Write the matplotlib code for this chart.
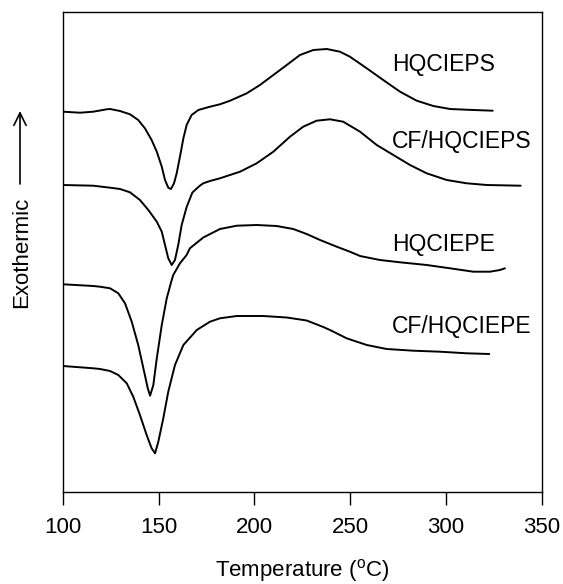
import matplotlib
matplotlib.use("Agg")
import matplotlib.pyplot as plt

plt.rcParams['font.family'] = ['Liberation Sans', 'DejaVu Sans']

# ---- data (temperature in degC, heat flow in arbitrary units incl. vertical offset) ----
t_hqcieps = [100.0, 108.9, 115.8, 122.8, 124.6, 129.8, 135.0, 139.3, 142.8, 146.3, 149.0,
             151.6, 153.3, 155.0, 156.4, 158.0, 159.4, 161.1, 162.9, 164.6, 167.2, 170.7,
             176.8, 182.0, 187.3, 196.0, 202.9, 209.9, 216.9, 223.8, 230.8, 237.8, 244.7,
             249.9, 258.7, 267.3, 276.1, 284.8, 293.5, 302.2, 314.4, 324.5]
y_hqcieps = [380.3, 379.3, 380.3, 382.7, 383.0, 381.0, 377.7, 372.0, 363.7, 352.0, 340.3,
             325.3, 312.0, 304.3, 303.0, 308.7, 318.7, 335.3, 353.7, 367.0, 377.0, 382.0,
             385.3, 387.7, 391.3, 398.7, 407.0, 417.0, 427.0, 437.0, 442.0, 443.0, 440.3,
             435.3, 423.7, 412.0, 400.3, 391.3, 386.0, 383.0, 382.0, 381.3]

t_cf_hqcieps = [100.0, 115.8, 124.6, 129.8, 135.0, 140.2, 144.6, 149.0, 151.6, 153.3, 155.0,
                156.8, 158.5, 160.2, 162.0, 164.6, 167.6, 171.5, 173.3, 176.8, 182.0, 192.5,
                201.2, 209.9, 218.6, 225.5, 232.5, 239.5, 246.4, 255.2, 263.9, 272.6, 281.3,
                290.0, 300.5, 310.9, 321.4, 339.1]
y_cf_hqcieps = [307.0, 306.3, 304.3, 303.0, 299.7, 292.0, 282.0, 270.3, 260.3, 247.0, 233.7,
                227.0, 232.0, 247.0, 267.0, 285.0, 299.5, 306.3, 308.7, 311.0, 313.7, 320.3,
                328.7, 340.3, 355.3, 365.3, 371.3, 372.7, 370.3, 360.3, 347.0, 337.0, 327.0,
                318.7, 312.0, 308.7, 307.0, 306.3]

t_hqciepe = [100.0, 115.8, 119.3, 124.6, 128.9, 132.4, 135.9, 139.3, 142.0, 144.3, 145.5,
             147.2, 149.0, 151.6, 154.2, 156.8, 157.6, 161.1, 164.6, 166.3, 173.3, 182.0,
             190.8, 201.2, 211.6, 220.3, 227.3, 234.3, 243.0, 249.9, 255.2, 265.6, 276.1,
             290.0, 302.2, 314.4, 323.1, 328.3, 330.9]
y_hqciepe = [207.7, 206.0, 205.3, 203.7, 198.7, 188.7, 170.3, 147.0, 123.7, 103.7, 96.3,
             107.0, 133.7, 167.0, 193.7, 212.0, 217.0, 228.7, 237.0, 243.7, 254.5, 263.0,
             266.3, 267.0, 266.0, 263.0, 258.0, 252.0, 245.3, 240.3, 236.0, 232.0, 229.7,
             227.0, 223.7, 220.3, 220.3, 222.0, 223.7]

t_cf_hqciepe = [100.0, 115.8, 119.3, 124.6, 128.9, 133.3, 136.7, 140.2, 143.7, 146.3, 148.1,
                149.8, 152.4, 155.0, 158.5, 162.9, 169.9, 176.8, 182.0, 190.8, 204.6, 216.9,
                227.3, 236.0, 239.5, 248.2, 258.7, 269.1, 283.0, 296.9, 310.9, 322.7]
y_cf_hqciepe = [126.0, 123.7, 123.0, 121.0, 117.0, 108.7, 95.3, 77.0, 57.0, 43.7, 38.7,
                50.3, 73.7, 100.3, 127.0, 147.0, 162.0, 170.3, 173.7, 176.0, 176.0, 174.5,
                171.5, 165.0, 162.0, 153.7, 147.0, 143.0, 141.3, 140.3, 138.7, 138.0]

labels = ['HQCIEPS', 'CF/HQCIEPS', 'HQCIEPE', 'CF/HQCIEPE']
xticks = [100, 150, 200, 250, 300, 350]

# ---- figure ----
W, H = 563, 584
fig = plt.figure(figsize=(W / 100, H / 100), dpi=100)
ax = fig.add_axes([63 / W, (H - 492) / H, 478.5 / W, 480 / H])

series = [(t_hqcieps, y_hqcieps), (t_cf_hqcieps, y_cf_hqcieps),
          (t_hqciepe, y_hqciepe), (t_cf_hqciepe, y_cf_hqciepe)]
for t, y in series:
    ax.plot(t, y, color='black', lw=1.4, solid_joinstyle='round', solid_capstyle='round')

label_pos = [(271.7, 427), (271.7, 350.3), (271.7, 247), (271.7, 165.3)]
for lab, (tx, ty) in zip(labels, label_pos):
    ax.text(tx, ty, lab, fontsize=16.5, ha='left', va='center', color='black')

ax.set_xlim(100, 350)
ax.set_ylim(0, 480)
ax.set_xticks(xticks)
ax.set_xticklabels([str(v) for v in xticks])
ax.set_yticks([])
ax.tick_params(axis='x', direction='out', length=9, width=1, pad=9, labelsize=16)
for s in ax.spines.values():
    s.set_linewidth(1)
    s.set_color('black')

ax.set_xlabel('Temperature ($\\mathregular{^{o}}$C)', fontsize=16)
ax.xaxis.set_label_coords(0.5, (492 - 571) / 480)
ax.xaxis.label.set_va('center')

# y label with arrow
fig.text(22 / W, 1 - 252 / H, 'Exothermic', rotation=90, fontsize=16,
         ha='center', va='center')
ax.annotate('', xy=(20 / W, 1 - 111 / H), xytext=(20 / W, 1 - 184 / H),
            xycoords='figure fraction', textcoords='figure fraction',
            arrowprops=dict(arrowstyle='->,head_length=0.45,head_width=0.22',
                            lw=1.2, color='black', mutation_scale=20,
                            shrinkA=0, shrinkB=0))

fig.savefig('out.png', dpi=100)
